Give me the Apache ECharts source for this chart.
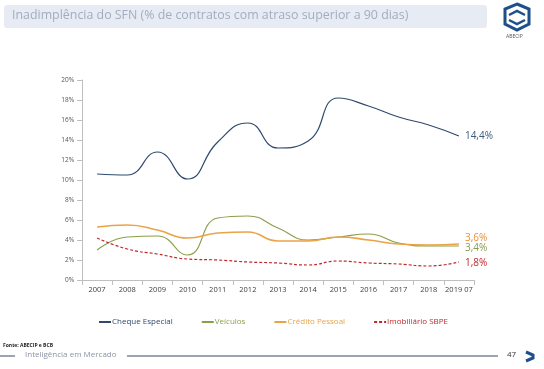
<!DOCTYPE html>
<html><head><meta charset="utf-8">
<script src="https://cdn.jsdelivr.net/npm/echarts@6/dist/echarts.min.js"></script>
<style>html,body{margin:0;padding:0;background:#fff}#c{width:544px;height:369px}</style>
</head><body><div id="c"></div>
<script>
const categories = ['2007','2008','2009','2010','2011','2012','2013','2014','2015','2016','2017','2018','2019 07'];
const chequeEspecial = [10.6,10.5,12.8,10.1,13.8,15.7,13.2,13.9,18.2,17.4,16.3,15.5,14.4];
const veiculos = [3.0,4.3,4.4,2.5,6.2,6.4,5.2,4.0,4.3,4.6,3.7,3.4,3.4];
const creditoPessoal = [5.3,5.5,5.0,4.2,4.7,4.8,3.9,3.9,4.3,4.0,3.6,3.5,3.6];
const imobiliario = [4.2,3.1,2.6,2.1,2.0,1.8,1.7,1.5,1.9,1.7,1.6,1.4,1.8];
const yTicks = [0,2,4,6,8,10,12,14,16,18,20];
const seriesNames = ['Cheque Especial','Veículos','Crédito Pessoal','Imobiliário SBPE'];

const chart = echarts.init(document.getElementById('c'));
const fmt = v => v.toFixed(1).replace('.', ',') + '%';
function mk(name, data, color, width, dash, labelColor, offY) {
  return {
    name, type: 'line', data, smooth: 0.5, symbol: 'none',
    lineStyle: {color, width, type: dash ? [3,2] : 'solid'},
    itemStyle: {color},
    endLabel: {show: true, formatter: p => fmt(p.value), color: labelColor,
      fontSize: 10, fontFamily: 'Open Sans', distance: 6, offset: [0, offY]},
    emphasis: {disabled: true}
  };
}
chart.setOption({
  animation: false,
  grid: {left: 82, right: 70, top: 80, bottom: 89},
  legend: {
    data: seriesNames, bottom: 38, left: 93, itemWidth: 12, itemHeight: 2, itemGap: 28,
    textStyle: {fontSize: 8, fontFamily: 'Open Sans', color: 'inherit', padding: [0,0,0,-4]},
    selectedMode: false
  },
  xAxis: {
    type: 'category', data: categories, boundaryGap: true,
    axisLine: {lineStyle: {color: '#bfbfbf'}},
    axisTick: {show: true, lineStyle: {color: '#bfbfbf'}},
    axisLabel: {fontSize: 7.5, color: '#404040', fontFamily: 'Open Sans', margin: 6, interval: 0}
  },
  yAxis: {
    type: 'value', min: 0, max: 20, interval: 2,
    axisLine: {show: true, lineStyle: {color: '#bfbfbf'}},
    axisTick: {show: true, lineStyle: {color: '#bfbfbf'}},
    splitLine: {show: false},
    axisLabel: {fontSize: 6.5, color: '#555', fontFamily: 'Open Sans', margin: 8, formatter: '{value}%'}
  },
  series: [
    mk(seriesNames[0], chequeEspecial, '#2f4a6d', 1.2, false, '#3a5a80', 0),
    mk(seriesNames[1], veiculos, '#8a9f4a', 1.1, false, '#8a9a50', 2),
    mk(seriesNames[2], creditoPessoal, '#eba347', 1.6, false, '#e8913a', -6),
    mk(seriesNames[3], imobiliario, '#c0282d', 1.2, true, '#c0282d', 1)
  ],
  graphic: [
    {type: 'rect', shape: {x: 4, y: 5, width: 483, height: 23, r: 3}, style: {fill: '#e7ebf3'}},
    {type: 'text', left: 12, top: 9, style: {text: 'Inadimplência do SFN (% de contratos com atraso superior a 90 dias)',
      fontSize: 12.4, fontFamily: 'Open Sans', fill: '#a3adbf'}},
    {type: 'polygon', shape: {points: [[517,4],[529,9],[529,24],[517,30],[505,24],[505,9]]},
      style: {fill: '#fff', stroke: '#1f4f8a', lineWidth: 3}},
    {type: 'polyline', shape: {points: [[509,15],[517,11],[525,15]]}, style: {stroke: '#1f4f8a', lineWidth: 2.5, fill: null}},
    {type: 'polyline', shape: {points: [[509,20],[517,24],[525,20]]}, style: {stroke: '#1f4f8a', lineWidth: 2.5, fill: null}},
    {type: 'text', left: 506, top: 34, style: {text: 'ABECIP', fontSize: 5, fontFamily: 'Open Sans', fill: '#555'}},
    {type: 'text', left: 3, top: 343, style: {text: 'Fonte: ABECIP e BCB', fontSize: 5, fontWeight: 'bold', fontFamily: 'Open Sans', fill: '#222'}},
    {type: 'line', shape: {x1: 0, y1: 356, x2: 15, y2: 356}, style: {stroke: '#3a4a60', lineWidth: 1}},
    {type: 'text', left: 25, top: 351, style: {text: 'Inteligência em Mercado', fontSize: 8, fontFamily: 'Open Sans', fill: '#8a94a6'}},
    {type: 'line', shape: {x1: 127, y1: 356, x2: 498, y2: 356}, style: {stroke: '#3a4a60', lineWidth: 1}},
    {type: 'text', left: 507, top: 351, style: {text: '47', fontSize: 8, fontFamily: 'Open Sans', fill: '#333'}},
    {type: 'polyline', shape: {points: [[526,352],[533,355],[533,358],[526,361]]}, style: {stroke: '#1f4f8a', lineWidth: 3, fill: null}}
  ]
});
</script></body></html>
